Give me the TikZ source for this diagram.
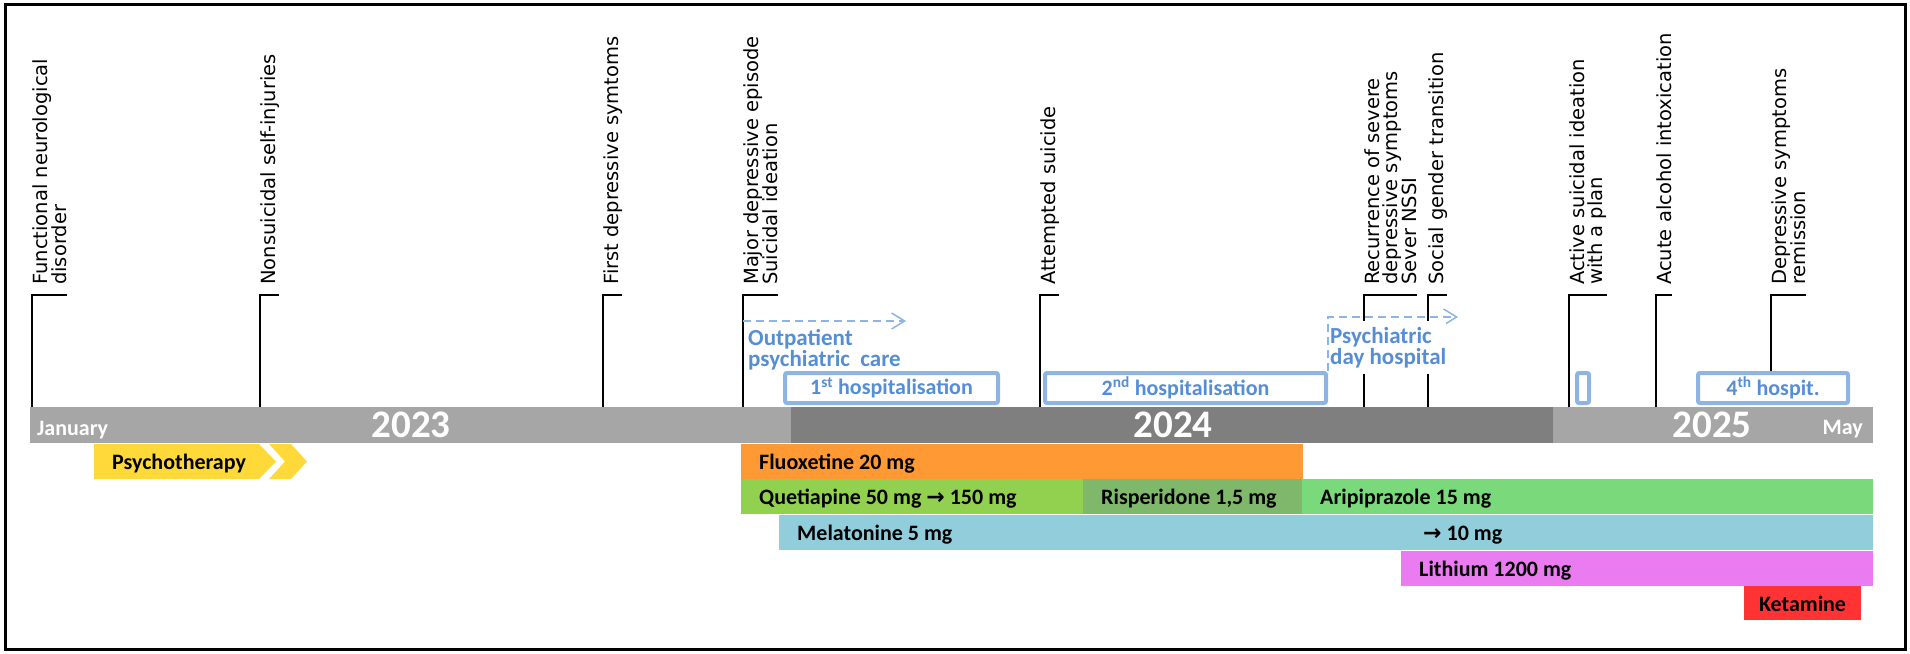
\documentclass[tikz,border=0pt]{standalone}
\usepackage{fontspec}
\setmainfont{Carlito}
\newfontfamily\eventfont{DejaVu Sans}
\usetikzlibrary{arrows.meta,positioning}

\definecolor{barlight}{HTML}{A6A6A6}
\definecolor{bardark}{HTML}{7F7F7F}
\definecolor{hospline}{HTML}{8DB4E2}
\definecolor{hosptext}{HTML}{558ED5}
\definecolor{psycho}{HTML}{FFD83A}
\definecolor{fluox}{HTML}{FF9933}
\definecolor{quet}{HTML}{92D050}
\definecolor{risp}{HTML}{7FB86A}
\definecolor{arip}{HTML}{7AD97A}
\definecolor{mela}{HTML}{92CDDC}
\definecolor{lith}{HTML}{EA7BF1}
\definecolor{keta}{HTML}{FF3333}

% name, colour, from, to, row top, text
\newcommand{\drugbar}[6]{%
  \fill[#2] (#3,#5) rectangle (#4,#5+35);
  \node[drugtext] (#1) at (#3+18,#5+25) {#6};}

\begin{document}
\begin{tikzpicture}[x=1pt,y=-1pt]
\tikzstyle{event}=[rotate=90,anchor=north west,inner sep=0pt,align=left,font=\eventfont\fontsize{19.5}{18.8}\selectfont]
\tikzstyle{evline}=[line width=1.6pt]
\tikzstyle{hosp}=[draw=hospline,line width=4pt,rounded corners=2pt,fill=white,minimum height=30pt,anchor=south west,inner sep=0pt,text=hosptext,font=\bfseries\fontsize{22}{24}\selectfont]
\tikzstyle{care}=[text=hosptext,font=\bfseries\fontsize{23}{19.5}\selectfont,align=left,inner sep=0pt,anchor=north west]
\tikzstyle{careline}=[draw=hospline,line width=1.5pt,dash pattern=on 8pt off 5pt,-{Straight Barb[length=13pt,width=16pt]}]
\tikzstyle{drugtext}=[anchor=base west,inner sep=0pt,font=\bfseries\fontsize{22}{24}\selectfont]
\tikzstyle{year}=[text=white,font=\bfseries\fontsize{39}{40}\selectfont,inner sep=0pt]
\tikzstyle{month}=[text=white,font=\bfseries\fontsize{22}{24}\selectfont,inner sep=0pt]

\useasboundingbox (0,0) rectangle (1910,653);
\draw[line width=3pt] (5,4) rectangle (1905,649);

% time bar
\node[fill=barlight,minimum width=1843pt,minimum height=36pt,inner sep=0pt,anchor=north west] (bar) at (30,407) {};
\fill[bardark] (791,407) rectangle (1553,443);
\node[month,anchor=base west] (jan) at (37,435) {January};
\node[month,anchor=base east] (may) at (1863,434) {May};
\node[year] (y23) at (411,425) {2023};
\node[year] (y24) at (1173,425) {2024};
\node[year] (y25) at (1712,425) {2025};

% hospitalisations
\node[hosp,minimum width=213pt] (h1) at (783,405) {1\textsuperscript{st} hospitalisation};
\node[hosp,minimum width=281pt] (h2) at (1043,405) {2\textsuperscript{nd} hospitalisation};
\node[hosp,minimum width=12pt] (h3) at (1575,405) {};
\node[hosp,minimum width=150pt] (h4) at (1696,405) {4\textsuperscript{th} hospit.};

% events
\foreach \n/\x/\e/\t in {
  e1/32/bar/{Functional neurological\\disorder},
  e2/260/bar/{Nonsuicidal self-injuries},
  e3/603/bar/{First depressive symtoms},
  e4/743/bar/{Major depressive  episode\\Suicidal ideation},
  e5/1040/bar/{Attempted suicide},
  e6/1364/bar/{Recurrence of severe\\depressive symptoms\\Sever NSSI},
  e7/1428/bar/{Social gender transition},
  e8/1569/bar/{Active suicidal ideation\\with a plan},
  e9/1656/bar/{Acute alcohol intoxication},
  e10/1771/h4/{Depressive symptoms\\remission}}{
  \node[event] (\n) at (\x,285) {\t};
  \draw[evline] (\n.north west |- \e.north) |- (\n.south west |- 0,295);
}

% care settings
\coordinate (opcend) at (906,321);
\draw[careline] (e4.north west |- opcend) -- (opcend);
\node[care] (opc) at (748,329) {Outpatient\\psychiatric\ \ care};
\coordinate (dhend) at (1458,317);
\draw[careline] (h2.north east) |- (dhend);
\node[care,fill=white,inner ysep=6pt] (pdh) at (1330,321) {Psychiatric\\day hospital};

% treatments
\fill[psycho] (94,444) -- (259,444) -- (276,461.5) -- (259,479) -- (94,479) -- cycle;
\fill[psycho] (269,444) -- (291,444) -- (307,461.5) -- (291,479) -- (269,479) -- (285,461.5) -- cycle;
\node[drugtext] (psy) at (112,469) {Psychotherapy};
\drugbar{flu}{fluox}{741}{1303}{444}{Fluoxetine 20 mg}
\drugbar{que}{quet}{741}{1083}{479}{Quetiapine 50 mg {\eventfont →} 150 mg}
\drugbar{ris}{risp}{1083}{1302}{479}{Risperidone 1,5 mg}
\drugbar{ari}{arip}{1302}{1873}{479}{Aripiprazole 15 mg}
\drugbar{mel}{mela}{779}{1873}{515}{Melatonine 5 mg}
\node[drugtext] (mel2) at (1423,540) {{\eventfont →} 10 mg};
\drugbar{lit}{lith}{1401}{1873}{551}{Lithium 1200 mg}
\fill[keta] (1744,586) rectangle (1861,620);
\node[drugtext,anchor=base] (ket) at (1802.5,611) {Ketamine};
\end{tikzpicture}
\end{document}
